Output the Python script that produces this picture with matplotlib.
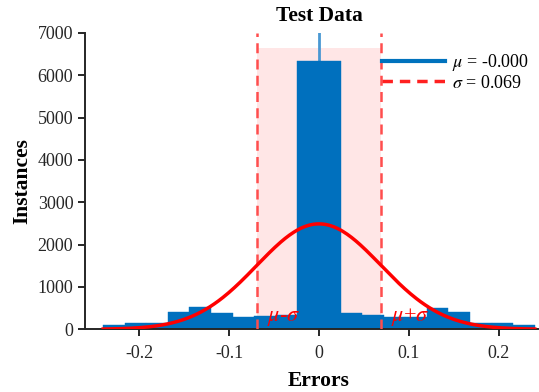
import numpy as np
import matplotlib
matplotlib.use("Agg")
import matplotlib.pyplot as plt
from matplotlib.lines import Line2D

# histogram of test errors
bin_left = -0.24
bin_width = 0.024
counts = [102, 157, 142, 418, 520, 378, 284, 323, 339, 6330,
          6330, 378, 338, 300, 300, 510, 400, 156, 156, 100]

mu = -0.000
sigma = 0.069
fit_peak = 2490
shade_top = 6640

xticks = [-0.2, -0.1, 0, 0.1, 0.2]
xtick_labels = ["-0.2", "-0.1", "0", "0.1", "0.2"]
yticks = [0, 1000, 2000, 3000, 4000, 5000, 6000, 7000]

plt.rcParams["font.family"] = ["Liberation Serif", "DejaVu Serif"]
plt.rcParams["mathtext.fontset"] = "stix"

fig = plt.figure(figsize=(5.39, 3.92), dpi=100)
ax = fig.add_axes([0.158, 0.160, 0.840, 0.756])

edges = bin_left + bin_width * np.arange(len(counts) + 1)

# +/- sigma band
ax.fill_between([mu - sigma, mu + sigma], 0, shade_top, color="#FFE6E6", zorder=1, lw=0)

ax.bar(edges[:-1], counts, width=bin_width, align="edge", color="#0070BE",
       edgecolor="#0070BE", linewidth=0.3, zorder=2)

# fitted normal curve
xs = np.linspace(edges[0], edges[-1], 300)
ys = fit_peak * np.exp(-0.5 * ((xs - mu) / sigma) ** 2)
ax.plot(xs, ys, color="#FF0000", lw=2.5, zorder=4)

ax.plot([mu, mu], [0, 7000], color="#4A98D3", lw=2, zorder=1.5)
for xv in [mu - sigma, mu + sigma]:
    ax.plot([xv, xv], [0, 7000], color="#FF4D4D", lw=1.8, ls=(0, (4, 2.5)), zorder=3)

ax.text(mu - sigma + 0.011, 40, r"$\mu$-$\sigma$", color="#FF0000", fontsize=16,
        zorder=5, va="bottom")
ax.text(mu + sigma + 0.011, 40, r"$\mu$+$\sigma$", color="#FF0000", fontsize=16,
        zorder=5, va="bottom")

ax.set_xlim(-0.26, 0.2435)
ax.set_ylim(0, 7000)
ax.set_xticks(xticks)
ax.set_xticklabels(xtick_labels)
ax.set_yticks(yticks)
ax.tick_params(labelsize=13, direction="out", length=5, width=1.4, colors="#262626",
               labelcolor="#262626")
ax.tick_params(axis="x", pad=6)
for s in ["top", "right"]:
    ax.spines[s].set_visible(False)
for s in ["left", "bottom"]:
    ax.spines[s].set_linewidth(1.4)
    ax.spines[s].set_color("#262626")

ax.text(0, 1.025, "Test Data", transform=ax.get_xaxis_transform(), ha="center",
        va="bottom", fontsize=15.5, fontweight="bold")
ax.set_xlabel("Errors", fontsize=15.5, fontweight="bold")
ax.xaxis.set_label_coords(0.0, -0.14, transform=ax.get_xaxis_transform())
ax.set_ylabel("Instances", fontsize=15.5, fontweight="bold", labelpad=4)

handles = [Line2D([], [], color="#0072BD", lw=3),
           Line2D([], [], color="#FF2020", lw=2.5, ls=(0, (3, 2)))]
ax.legend(handles, [r"$\mu$ = -0.000", r"$\sigma$ = 0.069"], loc="upper left",
          bbox_to_anchor=(0.64, 0.96), frameon=False, fontsize=13,
          handlelength=3.5, handletextpad=0.35, borderaxespad=0, labelspacing=0.1)

fig.savefig("out.png", dpi=100)
